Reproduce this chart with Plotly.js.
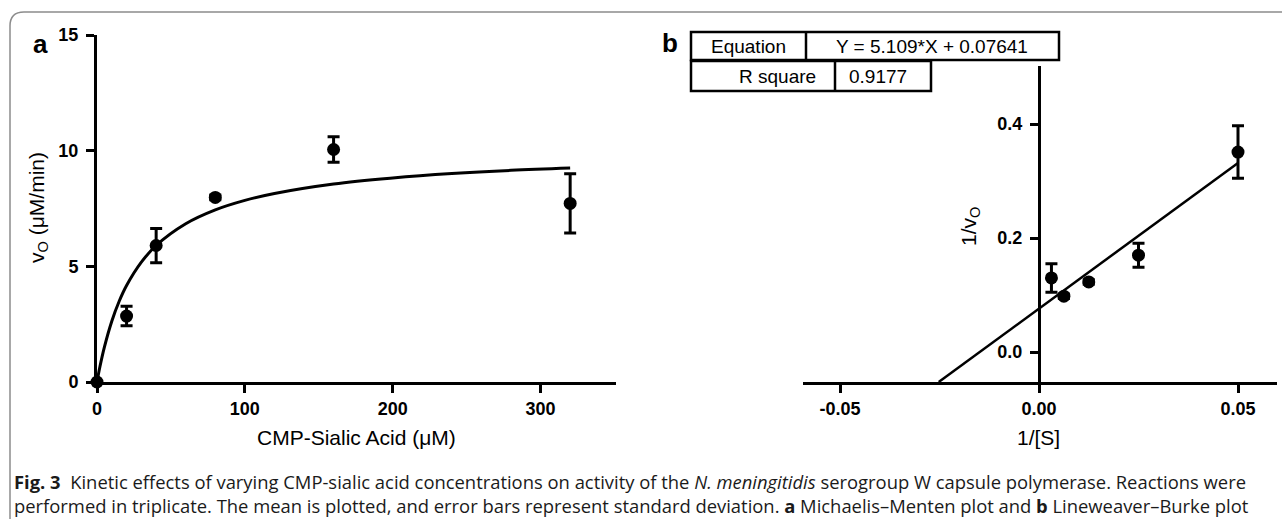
<!DOCTYPE html>
<html>
<head>
<meta charset="utf-8">
<script src="https://cdn.plot.ly/plotly-3.0.1.min.js"></script>
<style>html,body{margin:0;padding:0;background:#fff;}#chart{width:1282px;height:519px;}</style>
</head>
<body>
<div id="chart"></div>
<script>
// ---- Panel a: Michaelis–Menten ----
const mmS = [0, 20, 40, 80, 160, 320];
const mmV = [0, 2.85, 5.9, 7.98, 10.05, 7.72];
const mmSD = [0, 0.42, 0.74, 0.1, 0.55, 1.28];
// fitted curve values
const fitS = [0, 2, 5, 10, 15, 20, 30, 40, 60, 80, 100, 120, 160, 200, 240, 280, 320];
const fitV = [0, 0.67, 1.51, 2.63, 3.49, 4.17, 5.18, 5.90, 6.84, 7.44, 7.85, 8.15, 8.56, 8.82, 9.01, 9.15, 9.25];
const aXTicks = [0, 100, 200, 300];
const aXTickText = ['0', '100', '200', '300'];
const aYTicks = [0, 5, 10, 15];
const aYTickText = ['0', '5', '10', '15'];

// ---- Panel b: Lineweaver–Burke ----
const lbX = [0.003125, 0.00625, 0.0125, 0.025, 0.05];
const lbY = [0.130, 0.098, 0.123, 0.170, 0.351];
const lbSD = [0.025, 0.004, 0.004, 0.021, 0.046];
const lbLineX = [-0.0252, 0.05];
const lbLineY = [-0.0526, 0.3318];
const bXTicks = [-0.05, 0, 0.05];
const bXTickText = ['-0.05', '0.00', '0.05'];
const bYTicks = [0, 0.2, 0.4];
const bYTickText = ['0.0', '0.2', '0.4'];

const tableRows = [['Equation', 'Y = 5.109*X + 0.07641'], ['R square', '0.9177']];
const captionLine1 = '<b>Fig. 3</b>\u00a0\u00a0Kinetic effects of varying CMP-sialic acid concentrations on activity of the <i>N. meningitidis</i> serogroup W capsule polymerase. Reactions were';
const captionLine2 = 'performed in triplicate. The mean is plotted, and error bars represent standard deviation. <b>a</b> Michaelis\u2013Menten plot and <b>b</b> Lineweaver\u2013Burke plot';

const W = 1282, H = 519;
const px = x => x / W;
const py = y => 1 - y / H;

const FONT = 'Liberation Sans, Arial, sans-serif';
const tickFont = {family: FONT, size: 18, color: '#000', weight: 700};

function axisBase() {
  return {
    showline: true, linecolor: '#000', linewidth: 3,
    ticks: 'outside', ticklen: 8, tickwidth: 3, tickcolor: '#000',
    showgrid: false, zeroline: false, tickfont: tickFont, fixedrange: true
  };
}

const bXRange = [-0.0593, 0.0598];
const bXDom = [px(803), px(1277)];
const yPos = bXDom[0] + (0 - bXRange[0]) / (bXRange[1] - bXRange[0]) * (bXDom[1] - bXDom[0]);

const traces = [
  {x: fitS, y: fitV, mode: 'lines', line: {color: '#000', width: 3, shape: 'spline'}, xaxis: 'x', yaxis: 'y', hoverinfo: 'skip', cliponaxis: false},
  {x: mmS, y: mmV, mode: 'markers', marker: {color: '#000', size: 13},
   error_y: {type: 'data', array: mmSD, visible: true, color: '#000', thickness: 3, width: 6},
   xaxis: 'x', yaxis: 'y', cliponaxis: false},
  {x: lbLineX, y: lbLineY, mode: 'lines', line: {color: '#000', width: 2.5}, xaxis: 'x2', yaxis: 'y2', cliponaxis: false},
  {x: lbX, y: lbY, mode: 'markers', marker: {color: '#000', size: 13},
   error_y: {type: 'data', array: lbSD, visible: true, color: '#000', thickness: 3, width: 6},
   xaxis: 'x2', yaxis: 'y2', cliponaxis: false}
];

const layout = {
  width: W, height: H,
  margin: {l: 0, r: 0, t: 0, b: 0, pad: 0},
  paper_bgcolor: '#fff', plot_bgcolor: 'rgba(0,0,0,0)',
  showlegend: false,
  font: {family: FONT, color: '#000'},
  xaxis: Object.assign(axisBase(), {domain: [px(97), px(616)], range: [0, 351], tickvals: aXTicks, ticktext: aXTickText, anchor: 'y'}),
  yaxis: Object.assign(axisBase(), {domain: [py(382), py(35)], range: [0, 15], tickvals: aYTicks, ticktext: aYTickText, anchor: 'x', ticklabelstandoff: 4}),
  xaxis2: Object.assign(axisBase(), {domain: bXDom, range: bXRange, tickvals: bXTicks, ticktext: bXTickText, anchor: 'y2'}),
  yaxis2: Object.assign(axisBase(), {domain: [py(382), py(66)], range: [-0.0526, 0.502], tickvals: bYTicks, ticktext: bYTickText, anchor: 'free', position: yPos, ticklabelstandoff: 4}),
  shapes: [],
  annotations: []
};

const ann = (text, x, y, size, opts) => Object.assign({
  text: text, x: px(x), y: py(y), xref: 'paper', yref: 'paper', showarrow: false,
  xanchor: 'center', yanchor: 'middle', font: {family: FONT, size: size, color: '#000'}
}, opts || {});

// panel letters
layout.annotations.push(ann('<b>a</b>', 40, 44, 26));
layout.annotations.push(ann('<b>b</b>', 670, 43, 26));
// axis titles
layout.annotations.push(ann('CMP-Sialic Acid (\u03bcM)', 356, 437, 21));
layout.annotations.push(ann('1/[S]', 1038, 437, 21));
layout.annotations.push(ann('v<sub>O</sub> (\u03bcM/min)', 38, 208, 21, {textangle: -90}));
layout.annotations.push(ann('1/v<sub>O</sub>', 970, 227, 21, {textangle: -90}));

// table
const tb = {color: '#000', width: 2.5};
layout.shapes.push({type: 'rect', xref: 'paper', yref: 'paper', x0: px(691), x1: px(1059), y0: py(32), y1: py(60), line: tb});
layout.shapes.push({type: 'line', xref: 'paper', yref: 'paper', x0: px(806), x1: px(806), y0: py(32), y1: py(60), line: tb});
layout.shapes.push({type: 'rect', xref: 'paper', yref: 'paper', x0: px(691), x1: px(931), y0: py(61), y1: py(91), line: tb});
layout.shapes.push({type: 'line', xref: 'paper', yref: 'paper', x0: px(835), x1: px(835), y0: py(61), y1: py(91), line: tb});
layout.annotations.push(ann(tableRows[0][0], 748, 46, 19));
layout.annotations.push(ann(tableRows[0][1], 932, 46, 19));
layout.annotations.push(ann(tableRows[1][0], 818, 76, 19, {xanchor: 'right'}));
layout.annotations.push(ann(tableRows[1][1], 878, 76, 19));

// frame
layout.shapes.push({type: 'path', xref: 'paper', yref: 'paper',
  path: 'M ' + px(10) + ' ' + py(519) + ' L ' + px(10) + ' ' + py(26) + ' Q ' + px(10) + ' ' + py(12) + ' ' + px(24) + ' ' + py(12) + ' L ' + px(1282) + ' ' + py(12),
  line: {color: '#8c8c8c', width: 1.5}});

// caption (two lines in one text block)
const capFont = 'Open Sans, Noto Sans, sans-serif';
layout.annotations.push(ann(captionLine1 + '<br>' + captionLine2, 12, 493, 18.4,
  {xanchor: 'left', align: 'left', font: {family: capFont, size: 18.4, color: '#1a1a1a'}}));

Plotly.newPlot('chart', traces, layout, {staticPlot: true, displayModeBar: false});
</script>
</body>
</html>
